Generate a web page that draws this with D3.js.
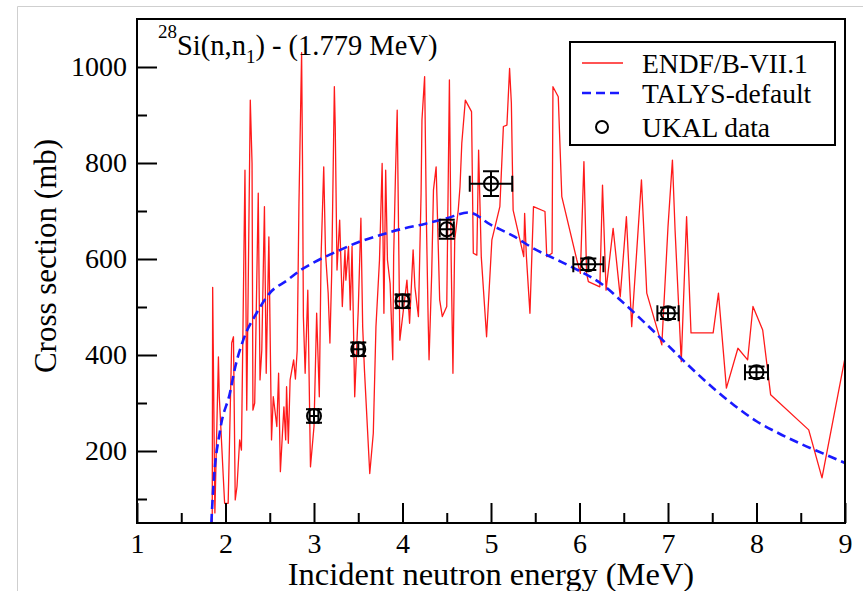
<!DOCTYPE html>
<html>
<head>
<meta charset="utf-8">
<script src="https://cdn.jsdelivr.net/npm/d3@7"></script>
<style>
  body { margin: 0; background: #fff; }
  #chart { width: 863px; height: 591px; }
  svg text { font-family: "Liberation Serif", "Times New Roman", Times, Tinos, "DejaVu Serif", serif !important; fill: #000; }
</style>
</head>
<body>
<div id="chart"></div>
<script>
// ENDF/B-VII.1 evaluation (MeV, mb)
const endfE = [1.85, 1.855, 1.88, 1.92, 1.93, 1.975, 1.99, 2.03, 2.07, 2.09, 2.11, 2.13, 2.16, 2.18, 2.22, 2.24, 2.26, 2.28, 2.30, 2.31,
  2.33, 2.37, 2.39, 2.41, 2.44, 2.46, 2.49, 2.52, 2.54, 2.58, 2.60, 2.62, 2.66, 2.68, 2.69, 2.71, 2.73, 2.77, 2.79, 2.81,
  2.83, 2.86, 2.87, 2.88, 2.90, 2.93, 2.96, 3.00, 3.03, 3.06, 3.08, 3.11, 3.13, 3.16, 3.18, 3.20, 3.23, 3.24, 3.26, 3.29,
  3.32, 3.35, 3.36, 3.39, 3.41, 3.43, 3.46, 3.50, 3.53, 3.55, 3.57, 3.63, 3.67, 3.70, 3.74, 3.77, 3.79, 3.81, 3.83, 3.86,
  3.89, 3.90, 3.92, 3.94, 3.97, 4.05, 4.08, 4.12, 4.14, 4.18, 4.21, 4.22, 4.25, 4.27, 4.29, 4.30, 4.33, 4.35, 4.38, 4.42,
  4.45, 4.50, 4.53, 4.55, 4.57, 4.59, 4.63, 4.65, 4.67, 4.71, 4.78, 4.80, 4.84, 4.86, 4.89, 4.95, 5.01, 5.10, 5.14, 5.18,
  5.21, 5.23, 5.25, 5.37, 5.38, 5.40, 5.44, 5.48, 5.61, 5.63, 5.69, 5.70, 5.76, 5.80, 5.97, 6.01, 6.05, 6.08, 6.10, 6.23,
  6.26, 6.30, 6.38, 6.46, 6.53, 6.59, 6.70, 6.76, 6.93, 7.00, 7.05, 7.08, 7.15, 7.21, 7.26, 7.51, 7.57, 7.66, 7.79, 7.90,
  7.96, 8.07, 8.16, 8.59, 8.74, 9.0];
const endfXS = [50, 541, 71, 396, 313, 146, 91, 91, 425, 438, 98, 126, 223, 202, 785, 285, 598, 931, 799, 285,
  300, 737, 348, 410, 709, 362, 646, 223, 313, 251, 362, 157, 292, 223, 334, 216, 348, 390, 350, 410,
  716, 1030, 806, 480, 362, 535, 167, 251, 487, 313, 605, 792, 612, 529, 425, 571, 959, 876, 577, 681,
  501, 619, 556, 626, 494, 626, 313, 494, 685, 459, 369, 153, 237, 459, 598, 799, 487, 785, 598, 549,
  390, 605, 771, 910, 431, 556, 466, 619, 542, 480, 737, 890, 980, 681, 473, 390, 570, 744, 792, 515,
  480, 501, 973, 598, 362, 640, 702, 751, 841, 931, 907, 612, 608, 827, 605, 438, 640, 709, 876, 879,
  997, 925, 702, 605, 695, 605, 487, 709, 699, 605, 612, 959, 938, 730, 598, 570, 803, 570, 553, 542,
  754, 535, 664, 521, 688, 459, 765, 529, 421, 667, 806, 660, 386, 688, 446, 446, 529, 331, 414, 390,
  501, 452, 317, 244, 144, 394];

// TALYS-default calculation
const talysE = [1.84, 1.86, 1.94, 2.05, 2.11, 2.2, 2.35, 2.5, 2.7, 2.85, 3.0, 3.25, 3.5, 3.75, 4.0, 4.25, 4.5, 4.75,
  5.0, 5.25, 5.5, 5.75, 6.0, 6.25, 6.5, 6.75, 7.0, 7.25, 7.5, 7.75, 8.0, 8.25, 8.5, 8.75, 9.0];
const talysXS = [50, 118, 244, 321, 375, 431, 487, 529, 556, 577, 593, 615, 635, 650, 663, 673, 685, 697,
  671, 648, 620, 598, 575, 548, 508, 465, 420, 375, 333, 295, 262, 237, 215, 195, 175];

// UKAL measurements
const ukalE = [3.0, 3.5, 4.0, 4.5, 5.0, 6.1, 7.0, 8.0];
const ukalXS = [273, 412, 512, 662, 757, 589, 487, 364];
const ukalDE = [0.05, 0.06, 0.07, 0.08, 0.24, 0.17, 0.12, 0.13];
const ukalDXS = [14, 14, 14, 20, 26, 12, 12, 12];

const xMajor = [1, 2, 3, 4, 5, 6, 7, 8, 9];
const xMinor = [1.5, 2.5, 3.5, 4.5, 5.5, 6.5, 7.5, 8.5];
const yMajor = [200, 400, 600, 800, 1000];
const yMinor = [100, 300, 500, 700, 900];

const legendLabels = ["ENDF/B-VII.1", "TALYS-default", "UKAL data"];

const serif = "'Liberation Serif', 'Times New Roman', Times, Tinos, 'DejaVu Serif', serif";

function createChart(containerId) {
    const container = d3.select(`#${containerId}`);
    const width = 863, height = 591;
    const margin = { top: 19, right: 18, bottom: 68, left: 137 };
    const innerWidth = width - margin.left - margin.right;
    const innerHeight = height - margin.top - margin.bottom;

    const root = container.append("svg")
        .attr("width", width)
        .attr("height", height)
        .attr("font-family", serif);

    // faint page border seen in the source figure
    root.append("path")
        .attr("d", `M17.5,${height} V6.5 H${width}`)
        .attr("fill", "none")
        .attr("stroke", "#cfcfcf")
        .attr("stroke-width", 1);

    const svg = root.append("g")
        .attr("transform", `translate(${margin.left},${margin.top})`);

    const x = d3.scaleLinear().domain([1, 9]).range([0, innerWidth]);
    const y = d3.scaleLinear().domain([50, 1100]).range([innerHeight, 0]);

    svg.append("clipPath").attr("id", "plot-clip")
        .append("rect").attr("width", innerWidth).attr("height", innerHeight);

    const plot = svg.append("g").attr("clip-path", "url(#plot-clip)");

    const line = d3.line().x(d => x(d[0])).y(d => y(d[1]));

    // ENDF red line
    plot.append("path")
        .datum(d3.zip(endfE, endfXS))
        .attr("fill", "none")
        .attr("stroke", "#ff1a1a")
        .attr("stroke-width", 1.3)
        .attr("stroke-linejoin", "round")
        .attr("d", line);

    // TALYS dashed
    plot.append("path")
        .datum(d3.zip(talysE, talysXS))
        .attr("fill", "none")
        .attr("stroke", "#1a1aff")
        .attr("stroke-width", 2.6)
        .attr("stroke-dasharray", "9 5")
        .attr("d", d3.line().curve(d3.curveMonotoneX).x(d => x(d[0])).y(d => y(d[1])));

    // UKAL data with error bars
    const pts = d3.range(ukalE.length).map(i => ({
        e: ukalE[i], xs: ukalXS[i], de: ukalDE[i], dxs: ukalDXS[i]
    }));
    const cap = 8;
    const g = plot.selectAll("g.ukal")
        .data(pts)
        .enter().append("g")
        .attr("class", "ukal")
        .attr("stroke", "#000")
        .attr("stroke-width", 2)
        .attr("fill", "none");

    g.append("path").attr("d", d =>
        `M${x(d.e - d.de)},${y(d.xs)}H${x(d.e + d.de)}` +
        `M${x(d.e - d.de)},${y(d.xs) - cap}V${y(d.xs) + cap}` +
        `M${x(d.e + d.de)},${y(d.xs) - cap}V${y(d.xs) + cap}` +
        `M${x(d.e)},${y(d.xs + d.dxs)}V${y(d.xs - d.dxs)}` +
        `M${x(d.e) - cap},${y(d.xs + d.dxs)}H${x(d.e) + cap}` +
        `M${x(d.e) - cap},${y(d.xs - d.dxs)}H${x(d.e) + cap}`);
    g.append("circle")
        .attr("cx", d => x(d.e))
        .attr("cy", d => y(d.xs))
        .attr("r", 7);

    // Axes (inward ticks)
    const styleAxis = sel => {
        sel.attr("font-family", serif).attr("font-size", 28);
        sel.select(".domain").remove();
        sel.selectAll("line").attr("stroke", "#000").attr("stroke-width", 2);
    };

    svg.append("g")
        .attr("transform", `translate(0,${innerHeight})`)
        .call(d3.axisBottom(x).tickValues(xMajor).tickSize(-20).tickPadding(10).tickFormat(d3.format("d")))
        .call(styleAxis);
    svg.append("g")
        .attr("transform", `translate(0,${innerHeight})`)
        .call(d3.axisBottom(x).tickValues(xMinor).tickSize(-10).tickFormat(""))
        .call(styleAxis);

    svg.append("g")
        .call(d3.axisLeft(y).tickValues(yMajor).tickSize(-20).tickPadding(10).tickFormat(d3.format("d")))
        .call(styleAxis);
    svg.append("g")
        .call(d3.axisLeft(y).tickValues(yMinor).tickSize(-10).tickFormat(""))
        .call(styleAxis);

    // frame
    svg.append("rect")
        .attr("width", innerWidth)
        .attr("height", innerHeight)
        .attr("fill", "none")
        .attr("stroke", "#000")
        .attr("stroke-width", 2);

    // X-axis label
    svg.append("text")
        .attr("text-anchor", "middle")
        .attr("x", innerWidth / 2)
        .attr("y", innerHeight + 62)
        .attr("font-size", 32.5)
        .text("Incident neutron energy (MeV)");

    // Y-axis label
    svg.append("text")
        .attr("text-anchor", "middle")
        .attr("transform", "rotate(-90)")
        .attr("x", -237)
        .attr("y", -81)
        .attr("font-size", 31)
        .text("Cross section (mb)");

    // reaction title
    const title = svg.append("text")
        .attr("x", 21)
        .attr("y", 36)
        .attr("font-size", 28.5);
    title.append("tspan").attr("dy", -17).attr("font-size", 19).text("28");
    title.append("tspan").attr("dy", 17).text("Si(n,n");
    title.append("tspan").attr("dy", 8).attr("font-size", 19).text("1");
    title.append("tspan").attr("dy", -8).text(") - (1.779 MeV)");

    // Legend
    const lg = svg.append("g").attr("transform", `translate(${433},${23})`);
    lg.append("rect")
        .attr("width", 265)
        .attr("height", 103)
        .attr("fill", "#fff")
        .attr("stroke", "#000")
        .attr("stroke-width", 2);
    const rowY = [21, 51, 85];
    lg.append("line").attr("x1", 12).attr("x2", 53).attr("y1", rowY[0]).attr("y2", rowY[0])
        .attr("stroke", "#ff1a1a").attr("stroke-width", 1.3);
    lg.append("line").attr("x1", 12).attr("x2", 53).attr("y1", rowY[1]).attr("y2", rowY[1])
        .attr("stroke", "#1a1aff").attr("stroke-width", 2.6).attr("stroke-dasharray", "9 5");
    lg.append("circle").attr("cx", 32).attr("cy", rowY[2]).attr("r", 6)
        .attr("fill", "none").attr("stroke", "#000").attr("stroke-width", 2);
    lg.selectAll("text.lab")
        .data(legendLabels)
        .enter().append("text")
        .attr("class", "lab")
        .attr("x", 72)
        .attr("y", (d, i) => rowY[i] + 10)
        .attr("font-size", 27.5)
        .text(d => d);
}

createChart("chart");
</script>
</body>
</html>
